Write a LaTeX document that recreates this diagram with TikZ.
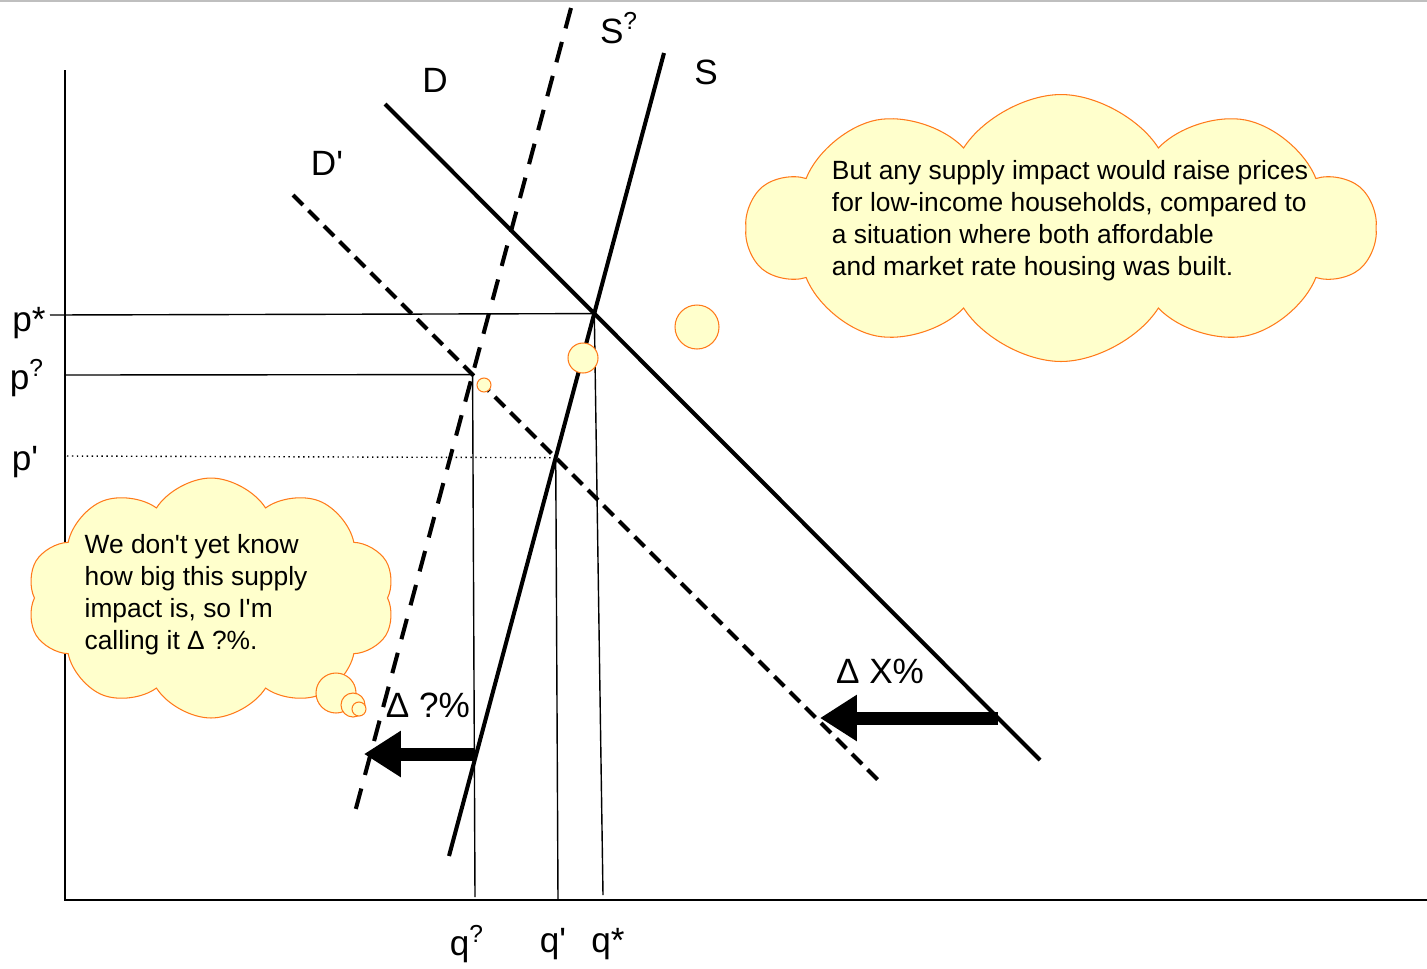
\documentclass[tikz,border=0pt]{standalone}
\usepackage{fontspec}
\setmainfont{Liberation Sans}
\usetikzlibrary{shapes.symbols, arrows.meta}
\definecolor{cloudfill}{HTML}{FFFFCC}
\definecolor{cloudline}{HTML}{FF7A1A}
\newcommand{\tick}{\textquotesingle}

\begin{document}
\begin{tikzpicture}[x=0.02cm, y=-0.02cm,
        axis/.style={line width=1.1pt},
        curve/.style={line width=2.3pt},
        dcurve/.style={line width=2.3pt, dash pattern=on 12pt off 8pt},
        dcurveb/.style={line width=2.3pt, dash pattern=on 8pt off 4.5pt},
        guide/.style={line width=0.8pt},
        lbl/.style={font=\fontsize{20}{24}\selectfont, inner sep=0pt},
        shiftarrow/.style={line width=7.4pt, -{Triangle[length=21pt, width=25pt]}},
        thought/.style={cloud, cloud puffs=10, cloud puff arc=115, cloud ignores aspect, draw=cloudline, fill=cloudfill, line width=0.6pt},
        cloudtext/.style={align=left, font=\fontsize{15}{18.2}\selectfont, inner sep=0pt},
        bubble/.style={draw=cloudline, fill=cloudfill, line width=0.6pt}
    ]
        \useasboundingbox (0,0) rectangle (1427,968);
        \draw[gray!50, line width=1pt] (0,1) -- (1427,1);

        % end points of the four curves
        \coordinate (d1) at (385,104);
        \coordinate (d2) at (1040,760);
        \coordinate (dp1) at (293,195);
        \coordinate (dp2) at (878,780);
        \coordinate (s1) at (664,53);
        \coordinate (s2) at (449,856);
        \coordinate (sq1) at (571,8);
        \coordinate (sq2) at (355,812);

        % equilibria
        \coordinate (eqstar) at (intersection of d1--d2 and s1--s2);
        \coordinate (eqq) at (intersection of dp1--dp2 and sq1--sq2);
        \coordinate (eqp) at (intersection of dp1--dp2 and s1--s2);

        % axes
        \draw[axis] (65,70) -- (65,900) -- (1427,900);

        % guides
        \draw[guide] (50,315) -- (eqstar);
        \draw[guide] (65,375) -- (eqq);
        \draw[guide, dotted] (67,456) -- (eqp);
        \draw[guide] (eqq) -- (475,897);
        \draw[guide] (eqp) -- (558,900);
        \draw[guide] (eqstar) -- (603,895);

        % curves
        \draw[curve] (d1) -- (d2);
        \draw[dcurveb] (dp1) -- (dp2);
        \draw[curve] (s1) -- (s2);
        \draw[dcurve] (sq1) -- (sq2);

        % shifts
        \coordinate (xfrom) at (998,718);
        \coordinate (xto) at (820,718);
        \coordinate (qfrom) at (474,754);
        \coordinate (qto) at (364,754);
        \draw[shiftarrow] (xfrom) -- (xto);
        \draw[shiftarrow] (qfrom) -- (qto);

        % labels
        \node[lbl] (lsq) at (619,28) {S\textsuperscript{?}};
        \node[lbl] (ls) at (706,72) {S};
        \node[lbl] (ld) at (435,80) {D};
        \node[lbl] (ldp) at (327,163) {D\tick};
        \node[lbl] (lpstar) at (29,323) {p*};
        \node[lbl] (lpq) at (27,378) {p\textsuperscript{?}};
        \node[lbl] (lpp) at (25,462) {p\tick};
        \node[lbl] (lqq) at (467,944) {q\textsuperscript{?}};
        \node[lbl] (lqp) at (553,944) {q\tick};
        \node[lbl] (lqstar) at (608,944) {q*};
        \node[lbl] (lx) at (880,671) {Δ X\%};
        \node[lbl] (lq) at (428,705) {Δ ?\%};

        % thought clouds
        \node[thought, minimum width=12.56cm, minimum height=5.34cm] (bigcloud) at (1061,228) {};
        \node[cloudtext] (bigtext) at (1070,221) {But any supply impact would raise prices\\for low-income households, compared to\\a situation where both affordable\\and market rate housing was built.};
        \draw[bubble] (697,327) circle (22);
        \draw[bubble] (583,358) circle (15);
        \draw[bubble] (484,385) circle (7);

        \node[thought, minimum width=7.36cm, minimum height=4.8cm] (smallcloud) at (211,598) {};
        \node[cloudtext] (smalltext) at (196,595) {We don\tick t yet know\\how big this supply\\impact is, so I\tick m\\calling it Δ ?\%.};
        \draw[bubble] (336,693) circle (20);
        \draw[bubble] (353,705) circle (12);
        \draw[bubble] (359,709) circle (7);
    \end{tikzpicture}
\end{document}
